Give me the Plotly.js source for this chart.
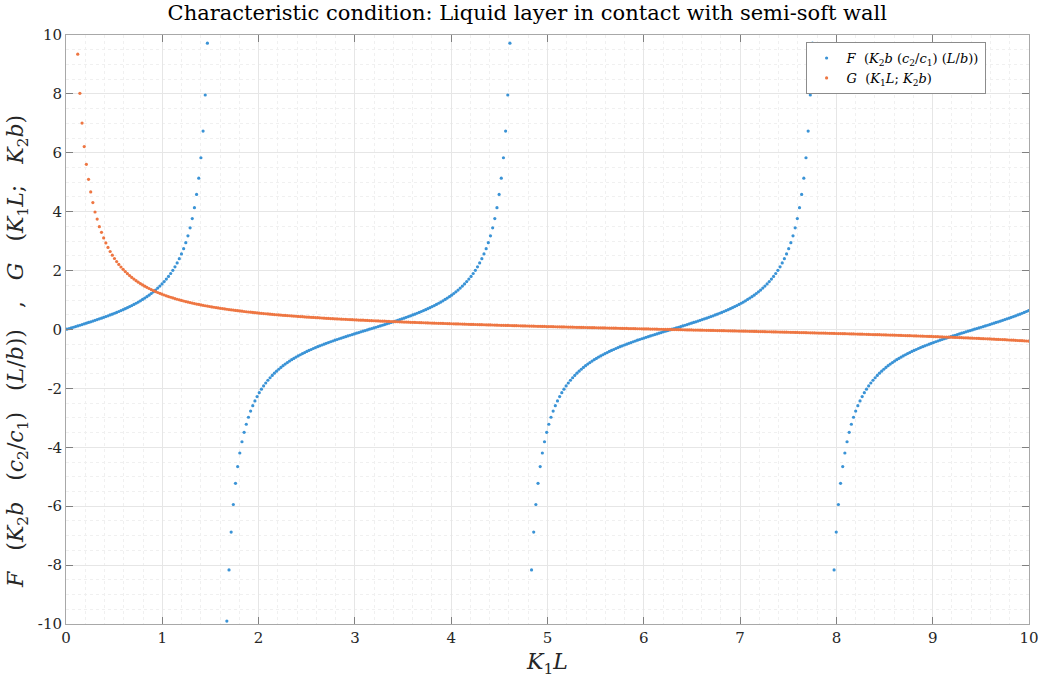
<!DOCTYPE html>
<html>
<head>
<meta charset="utf-8">
<script src="https://cdn.plot.ly/plotly-3.0.1.min.js"></script>
<style>html,body{margin:0;padding:0;background:#fff;}#chart{width:1061px;height:680px;}</style>
</head>
<body>
<div id="chart"></div>
<script>
// Sampling grid of K1L (first sample and constant spacing, read from the dot spacing)
const K1L_START = 0.0097;
const K1L_STEP = 0.02244;

// Blue series F (K2b (c2/c1)(L/b)) at each K1L sample (null = outside the -10..10 window)
const F_VALUES = [
0.010,0.032,0.055,0.077,0.100,0.123,0.145,0.168,0.192,0.215,
0.239,0.262,0.287,0.311,0.336,0.361,0.386,0.412,0.439,0.466,
0.494,0.522,0.551,0.580,0.611,0.642,0.674,0.707,0.742,0.777,
0.814,0.851,0.891,0.932,0.975,1.020,1.066,1.116,1.167,1.222,
1.279,1.340,1.405,1.474,1.547,1.626,1.711,1.803,1.902,2.011,
2.129,2.259,2.404,2.565,2.745,2.949,3.182,3.451,3.766,4.138,
4.586,5.137,5.832,6.736,7.962,9.721,
null,null,null,null,null,null,null,null,
-9.9,
-8.163,-6.878,-5.942,-5.222,-4.653,-4.193,-3.812,-3.490,-3.217,-2.979,
-2.771,-2.588,-2.425,-2.278,-2.146,-2.026,-1.916,-1.816,-1.723,-1.638,
-1.558,-1.484,-1.414,-1.349,-1.287,-1.229,-1.174,-1.122,-1.073,-1.026,
-0.981,-0.938,-0.896,-0.857,-0.819,-0.782,-0.746,-0.712,-0.679,-0.646,
-0.615,-0.584,-0.555,-0.526,-0.497,-0.470,-0.443,-0.416,-0.390,-0.364,
-0.339,-0.314,-0.290,-0.266,-0.242,-0.218,-0.195,-0.172,-0.149,-0.126,
-0.103,-0.080,-0.058,-0.035,-0.013,
0.010,0.032,0.055,0.077,0.100,0.123,0.145,0.168,0.192,0.215,
0.239,0.262,0.287,0.311,0.336,0.361,0.386,0.412,0.439,0.466,
0.494,0.522,0.551,0.580,0.611,0.642,0.674,0.707,0.742,0.777,
0.814,0.851,0.891,0.932,0.975,1.020,1.066,1.116,1.167,1.222,
1.279,1.340,1.405,1.474,1.547,1.626,1.711,1.803,1.902,2.011,
2.129,2.259,2.404,2.565,2.745,2.949,3.182,3.451,3.766,4.138,
4.586,5.137,5.832,6.736,7.962,9.721,
null,null,null,null,null,null,null,null,null,
-8.163,-6.878,-5.942,-5.222,-4.653,-4.193,-3.812,-3.490,-3.217,-2.979,
-2.771,-2.588,-2.425,-2.278,-2.146,-2.026,-1.916,-1.816,-1.723,-1.638,
-1.558,-1.484,-1.414,-1.349,-1.287,-1.229,-1.174,-1.122,-1.073,-1.026,
-0.981,-0.938,-0.896,-0.857,-0.819,-0.782,-0.746,-0.712,-0.679,-0.646,
-0.615,-0.584,-0.555,-0.526,-0.497,-0.470,-0.443,-0.416,-0.390,-0.364,
-0.339,-0.314,-0.290,-0.266,-0.242,-0.218,-0.195,-0.172,-0.149,-0.126,
-0.103,-0.080,-0.058,-0.035,-0.013,
0.010,0.032,0.055,0.077,0.100,0.123,0.145,0.168,0.192,0.215,
0.239,0.262,0.287,0.311,0.336,0.361,0.386,0.412,0.439,0.466,
0.494,0.522,0.551,0.580,0.611,0.642,0.674,0.707,0.742,0.777,
0.814,0.851,0.891,0.932,0.975,1.020,1.066,1.116,1.167,1.222,
1.279,1.340,1.405,1.474,1.547,1.626,1.711,1.803,1.902,2.011,
2.129,2.259,2.404,2.565,2.745,2.949,3.182,3.451,3.766,4.138,
4.586,5.137,5.832,6.736,7.962,9.721,
null,null,null,null,null,null,null,null,null,
-8.163,-6.878,-5.942,-5.222,-4.653,-4.193,-3.812,-3.490,-3.217,-2.979,
-2.771,-2.588,-2.425,-2.278,-2.146,-2.026,-1.916,-1.816,-1.723,-1.638,
-1.558,-1.484,-1.414,-1.349,-1.287,-1.229,-1.174,-1.122,-1.073,-1.026,
-0.981,-0.938,-0.896,-0.857,-0.819,-0.782,-0.746,-0.712,-0.679,-0.646,
-0.615,-0.584,-0.555,-0.526,-0.497,-0.470,-0.443,-0.416,-0.390,-0.364,
-0.339,-0.314,-0.290,-0.266,-0.242,-0.218,-0.195,-0.172,-0.149,-0.126,
-0.103,-0.080,-0.058,-0.035,-0.013,
0.010,0.032,0.055,0.077,0.100,0.123,0.145,0.168,0.192,0.215,
0.239,0.262,0.287,0.311,0.336,0.361,0.386,0.412,0.439,0.466,
0.494,0.522,0.551,0.580,0.611,0.642
];

// Orange series G (K1L; K2b) at each K1L sample
const G_VALUES = [
null,null,null,null,null,
9.35,8.02,7.01,6.21,5.61,5.10,4.67,4.31,3.99,3.75,3.49,
3.299,3.109,2.939,2.786,2.649,2.525,2.411,2.307,2.211,2.123,
2.042,1.966,1.896,1.830,1.769,1.712,1.658,1.607,1.559,1.514,
1.471,1.431,1.393,1.356,1.322,1.288,1.257,1.227,1.198,1.171,
1.144,1.119,1.095,1.072,1.049,1.028,1.007,0.987,0.968,0.949,
0.931,0.914,0.897,0.881,0.865,0.850,0.835,0.821,0.807,0.794,
0.781,0.768,0.755,0.743,0.732,0.720,0.709,0.699,0.688,0.678,
0.668,0.658,0.649,0.639,0.630,0.621,0.612,0.603,0.595,0.587,
0.579,0.571,0.564,0.556,0.549,0.542,0.535,0.528,0.521,0.514,
0.508,0.501,0.495,0.489,0.483,
0.477,0.472,0.467,0.461,0.456,0.450,0.445,0.439,0.434,0.428,
0.423,0.418,0.414,0.409,0.404,0.400,0.395,0.391,0.386,0.381,
0.377,0.372,0.368,0.364,0.360,0.356,0.352,0.348,0.344,0.340,
0.336,0.332,0.328,0.325,0.321,0.318,0.315,0.311,0.308,0.304,
0.301,0.297,0.294,0.290,0.287,0.284,0.281,0.278,0.275,0.272,
0.269,0.266,0.263,0.259,0.256,0.253,0.251,0.248,0.245,0.242,
0.240,0.237,0.234,0.231,0.229,0.226,0.223,0.221,0.218,0.216,
0.213,0.211,0.208,0.205,0.203,0.200,0.198,0.195,0.193,0.191,
0.188,0.186,0.184,0.181,0.179,0.177,0.174,0.172,0.170,0.167,
0.165,0.163,0.161,0.159,0.156,0.154,0.152,0.150,0.148,0.145,
0.143,0.141,0.139,0.137,0.135,0.133,0.131,0.129,0.127,0.125,
0.123,0.121,0.119,0.117,0.115,0.113,0.111,0.109,0.107,0.105,
0.103,0.101,0.099,0.098,0.096,0.094,0.092,0.090,0.088,0.086,
0.085,0.083,0.081,0.079,0.077,0.075,0.074,0.072,0.070,0.068,
0.066,0.065,0.063,0.061,0.059,0.058,0.056,0.054,0.052,0.051,
0.049,0.047,0.045,0.044,0.042,0.040,0.038,0.037,0.035,0.033,
0.031,0.030,0.028,0.026,0.025,0.023,0.021,0.020,0.018,0.016,
0.015,0.013,0.011,0.009,0.008,0.006,0.004,0.003,0.001,-0.001,
-0.002,-0.004,-0.006,-0.007,-0.009,-0.011,-0.013,-0.014,-0.016,-0.018,
-0.019,-0.021,-0.023,-0.024,-0.026,-0.028,-0.029,-0.031,-0.033,-0.034,
-0.036,-0.038,-0.039,-0.041,-0.043,-0.045,-0.046,-0.048,-0.050,-0.051,
-0.053,-0.055,-0.057,-0.058,-0.060,-0.062,-0.063,-0.065,-0.067,-0.069,
-0.070,-0.072,-0.074,-0.076,-0.077,-0.079,-0.081,-0.083,-0.085,-0.086,
-0.088,-0.090,-0.092,-0.093,-0.095,-0.097,-0.099,-0.101,-0.103,-0.105,
-0.106,-0.108,-0.110,-0.112,-0.114,-0.116,-0.118,-0.120,-0.121,-0.123,
-0.125,-0.127,-0.129,-0.131,-0.133,-0.135,-0.137,-0.139,-0.141,-0.143,
-0.145,-0.147,-0.149,-0.151,-0.153,-0.156,-0.158,-0.160,-0.162,-0.164,
-0.166,-0.169,-0.171,-0.173,-0.175,-0.177,-0.180,-0.182,-0.184,-0.186,
-0.189,-0.191,-0.194,-0.196,-0.198,-0.201,-0.203,-0.206,-0.208,-0.211,
-0.213,-0.216,-0.218,-0.221,-0.224,-0.226,-0.229,-0.231,-0.234,-0.236,
-0.239,-0.242,-0.245,-0.248,-0.251,-0.254,-0.257,-0.259,-0.262,-0.265,
-0.268,-0.271,-0.274,-0.278,-0.281,-0.284,-0.287,-0.290,-0.294,-0.297,
-0.300,-0.303,-0.307,-0.310,-0.314,-0.318,-0.321,-0.325,-0.329,-0.332,
-0.336,-0.340,-0.343,-0.347,-0.351,-0.356,-0.360,-0.364,-0.368,-0.373,
-0.377,-0.381,-0.386,-0.390,-0.394
];

// Tick labels
const X_TICKS = [0,1,2,3,4,5,6,7,8,9,10];
const X_TICK_LABELS = ['0','1','2','3','4','5','6','7','8','9','10'];
const Y_TICKS = [-10,-8,-6,-4,-2,0,2,4,6,8,10];
const Y_TICK_LABELS = ['-10','-8','-6','-4','-2','0','2','4','6','8','10'];

const SP = '&nbsp;';
const SP3 = '&nbsp;&nbsp;&nbsp;';
const F_NAME = '<i>F</i>' + SP + ' (<i>K</i><sub>2</sub><i>b</i>' + SP + '(<i>c</i><sub>2</sub>/<i>c</i><sub>1</sub>)' + SP + '(<i>L</i>/<i>b</i>))';
const G_NAME = '<i>G</i>' + SP + ' (<i>K</i><sub>1</sub><i>L</i>;' + SP + '<i>K</i><sub>2</sub><i>b</i>)';
const TITLE = 'Characteristic condition: Liquid layer in contact with semi-soft wall';
const X_TITLE = '<i>K</i><sub>1</sub><i>L</i>';
const Y_TITLE = '<i>F</i>' + SP3 + '(<i>K</i><sub>2</sub><i>b</i>' + SP3 + '(<i>c</i><sub>2</sub>/<i>c</i><sub>1</sub>)' + SP3 + '(<i>L</i>/<i>b</i>))' + SP3 + ',' + SP3 + '<i>G</i>' + SP3 + '(<i>K</i><sub>1</sub><i>L</i>;' + SP3 + '<i>K</i><sub>2</sub><i>b</i>)';

const SERIF = '"DejaVu Serif", "Liberation Serif", serif';

const traces = [
  {type:'scatter', mode:'markers', name:F_NAME, x0:K1L_START, dx:K1L_STEP, y:F_VALUES,
   marker:{size:3.2, color:'#3a93d6'}, hoverinfo:'x+y'},
  {type:'scatter', mode:'markers', name:G_NAME, x0:K1L_START, dx:K1L_STEP, y:G_VALUES,
   marker:{size:3.2, color:'#ee7642'}, hoverinfo:'x+y'}
];

const axisCommon = {
  showline:true, linecolor:'#a8a8a8', linewidth:1, mirror:'ticks',
  ticks:'inside', ticklen:7, tickcolor:'#808080', tickwidth:1,
  showgrid:true, gridcolor:'#e6e6e6', gridwidth:1, zeroline:false,
  tickfont:{family:SERIF, size:15, color:'#262626'}
};

const layout = {
  width:1061, height:680,
  paper_bgcolor:'#ffffff', plot_bgcolor:'#ffffff',
  margin:{l:66, r:32, t:35, b:56},
  showlegend:true,
  title:{text:TITLE, font:{family:SERIF, size:21, color:'#000000'},
         xref:'container', x:0.497, xanchor:'center', yref:'container', y:0.981, yanchor:'middle'},
  xaxis:Object.assign({}, axisCommon, {
    range:[0,10], tickmode:'array', tickvals:X_TICKS, ticktext:X_TICK_LABELS,
    minor:{dtick:0.2, showgrid:true, gridcolor:'#f0f0f0', griddash:'dot', ticks:''},
    title:{text:X_TITLE, font:{family:SERIF, size:22, color:'#262626'}, standoff:7}
  }),
  yaxis:Object.assign({}, axisCommon, {
    range:[-10,10], tickmode:'array', tickvals:Y_TICKS, ticktext:Y_TICK_LABELS,
    minor:{dtick:0.5, showgrid:true, gridcolor:'#f0f0f0', griddash:'dot', ticks:''}
  }),
  annotations:[{
    text:Y_TITLE, textangle:-90, showarrow:false,
    xref:'paper', yref:'paper', x:-0.0498, y:0.462, xanchor:'center', yanchor:'middle',
    font:{family:SERIF, size:22, color:'#262626'}
  }],
  legend:{x:0.768, y:0.988, xanchor:'left', yanchor:'top',
          bgcolor:'#ffffff', bordercolor:'#8c8c8c', borderwidth:1,
          font:{family:SERIF, size:13, color:'#000000'},
          itemwidth:30, tracegroupgap:0}
};

Plotly.newPlot('chart', traces, layout, {displayModeBar:false, staticPlot:true});
</script>
</body>
</html>
